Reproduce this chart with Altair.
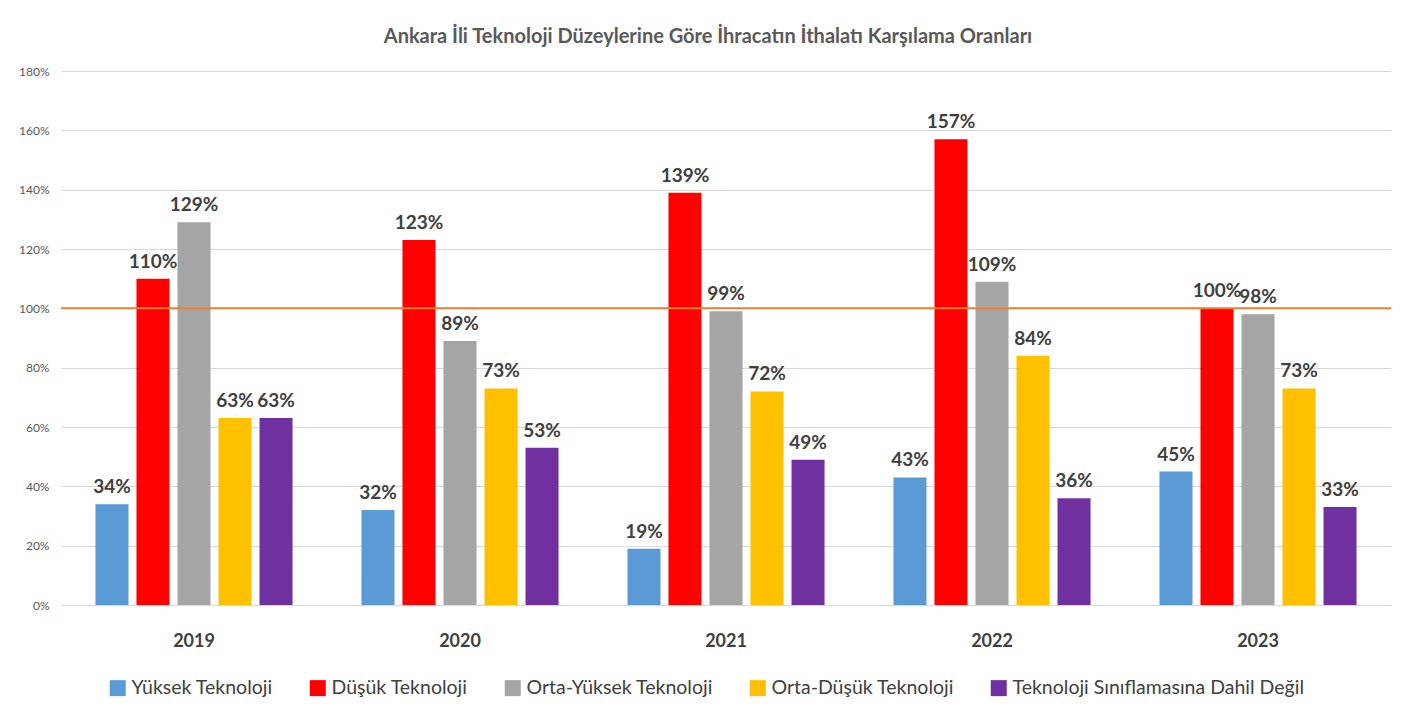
import altair as alt
import pandas as pd

years = ["2019", "2020", "2021", "2022", "2023"]
series = [
    "Yüksek Teknoloji",
    "Düşük Teknoloji",
    "Orta-Yüksek Teknoloji",
    "Orta-Düşük Teknoloji",
    "Teknoloji Sınıflamasına Dahil Değil",
]
yuksek = [34, 32, 19, 43, 45]
dusuk = [110, 123, 139, 157, 100]
orta_yuksek = [129, 89, 99, 109, 98]
orta_dusuk = [63, 73, 72, 84, 73]
dahil_degil = [63, 53, 49, 36, 33]
colors = ["#5B9BD5", "#FF0000", "#A5A5A5", "#FFC000", "#7030A0"]
y_ticks = [0, 20, 40, 60, 80, 100, 120, 140, 160, 180]
reference = [100]

rows = []
for s, vals in zip(series, [yuksek, dusuk, orta_yuksek, orta_dusuk, dahil_degil]):
    for y, v in zip(years, vals):
        rows.append({"Yıl": y, "Seri": s, "Oran": v, "Etiket": f"{v}%"})
df = pd.DataFrame(rows)

FONT = "Lato"

base = alt.Chart(df).encode(
    x=alt.X(
        "Yıl:N",
        sort=years,
        scale=alt.Scale(paddingInner=0, paddingOuter=0),
        axis=alt.Axis(
            title=None, labelAngle=0, ticks=False, domain=False,
            labelFontSize=18, labelFontWeight="bold", labelColor="#404040",
            labelPadding=27, labelFont=FONT, grid=False,
        ),
    ),
    xOffset=alt.XOffset(
        "Seri:N", sort=series,
        scale=alt.Scale(paddingInner=0.195, paddingOuter=0.84),
    ),
    y=alt.Y(
        "Oran:Q",
        scale=alt.Scale(domain=[0, 180], nice=False),
        axis=alt.Axis(
            title=None, values=y_ticks, labelExpr="datum.value + '%'",
            ticks=False, domain=False, gridColor="#d9d9d9", gridWidth=1,
            labelFontSize=12, labelColor="#595959", labelPadding=12, labelFont=FONT,
        ),
    ),
)

bars = base.mark_bar().encode(
    color=alt.Color(
        "Seri:N", sort=series,
        scale=alt.Scale(domain=series, range=colors),
        legend=alt.Legend(
            title=None, orient="none", direction="horizontal",
            legendX=47, legendY=607,
            symbolType="square", symbolSize=256, symbolStrokeWidth=0,
            labelFontSize=19.5, labelColor="#404040", labelFont=FONT,
            columnPadding=35, labelLimit=400, symbolOffset=0,
        ),
    )
)

labels = base.mark_text(
    baseline="alphabetic", dy=-11, fontSize=19, fontWeight="bold",
    color="#404040", font=FONT,
).encode(text="Etiket:N")

rule = alt.Chart(pd.DataFrame({"ref": reference})).mark_rule(
    color="#ED7D31", strokeWidth=2
).encode(y="ref:Q")

chart = (
    alt.layer(bars, labels, rule)
    .properties(
        width=1330, height=534,
        title=alt.TitleParams(
            "Ankara İli Teknoloji Düzeylerine Göre İhracatın İthalatı Karşılama Oranları",
            fontSize=20, fontWeight="bold", color="#595959", font=FONT,
            anchor="middle", offset=18, dx=-18,
        ),
        padding={"left": 10, "top": 19, "right": 10, "bottom": 5},
        background="white",
    )
    .configure_view(stroke=None)
)

chart.save("out.html", embed_options={"renderer": "svg", "actions": False})
